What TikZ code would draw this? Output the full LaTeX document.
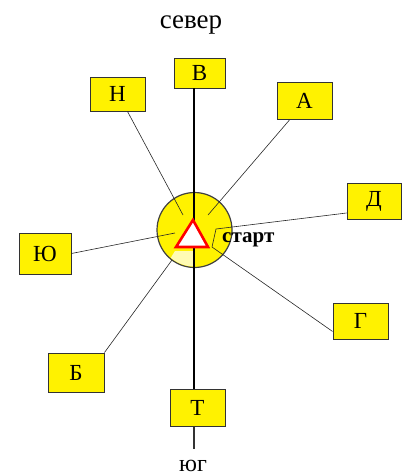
\documentclass[tikz,border=0pt]{standalone}
\usepackage{fontspec}
\setmainfont{Liberation Serif}
\begin{document}
\begin{tikzpicture}[x=1pt,y=-1pt,
  box/.style={draw=black!80,fill=yellow,line width=0.9pt,inner sep=0pt,font=\fontsize{23}{23}\selectfont},
  ray/.style={draw=black!85,line width=0.6pt},
  axis/.style={draw=black,line width=1.1pt},
  label/.style={font=\fontsize{27}{27}\selectfont,inner sep=0pt}]
\useasboundingbox (0,0) rectangle (405,475);
% centre disc
\node[circle,fill=yellow,draw=black!75,line width=1.2pt,minimum size=75pt,inner sep=0pt] (c) at (194.5,230) {};
\begin{scope}
  \clip (194.5,230) circle (36.5pt);
  \fill[yellow!30] (175,251) -- (193,251) -- (193,272) -- (162,272) -- cycle;
\end{scope}
% boxes
\node[box,minimum width=51pt,minimum height=30pt] (V) at (199.5,73) {В};
\node[box,minimum width=55pt,minimum height=34pt] (N) at (117.5,94) {Н};
\node[box,minimum width=55pt,minimum height=37pt] (A) at (304.5,101) {А};
\node[box,minimum width=54pt,minimum height=36pt] (D) at (374,201) {Д};
\node[box,minimum width=52pt,minimum height=41pt] (Yu) at (45,253.5) {Ю};
\node[box,minimum width=55pt,minimum height=36pt] (G) at (360.5,321) {Г};
\node[box,minimum width=56pt,minimum height=39pt] (B) at (76,372.5) {Б};
\node[box,minimum width=55pt,minimum height=37pt] (T) at (197.5,407.5) {Т};
% free ends inside the disc
\coordinate (n1) at (183,215);
\coordinate (a1) at (208,215);
\coordinate (d1) at (216,229);
\coordinate (yu1) at (175,233);
\coordinate (g1) at (212,247);
\coordinate (b1) at (172,260);
\coordinate (s1) at (194,449);
\coordinate (ax) at (194,0);
% rays
\draw[ray] ([xshift=10pt]N.south) -- (n1);
\draw[ray] ([xshift=-15pt]A.south) -- (a1);
\draw[ray] ([yshift=-12pt]D.west) -- (d1);
\draw[ray] (d1) -- (g1);
\draw[ray] (Yu.east) -- (yu1);
\draw[ray] ([yshift=8pt]G.south west) -- (g1);
\draw[ray] (B.north east) -- (b1);
% north-south axis
\draw[axis] (V.south -| ax) -- (T.north -| ax);
\draw[axis,black!80] (T.south -| ax) -- (s1);
% triangle
\draw[red,line width=2.6pt,fill=white,line join=miter] (193,220) -- (208,247) -- (176,247) -- cycle;
% labels
\node[label,anchor=base] (north) at (191,28) {север};
\node[font=\fontsize{24}{24}\selectfont,inner sep=0pt,anchor=base] (south) at (193,471) {юг};
\node[font=\fontsize{21}{21}\selectfont\bfseries,inner sep=0pt,anchor=west] (start) at (222,240) {старт};
\end{tikzpicture}
\end{document}
